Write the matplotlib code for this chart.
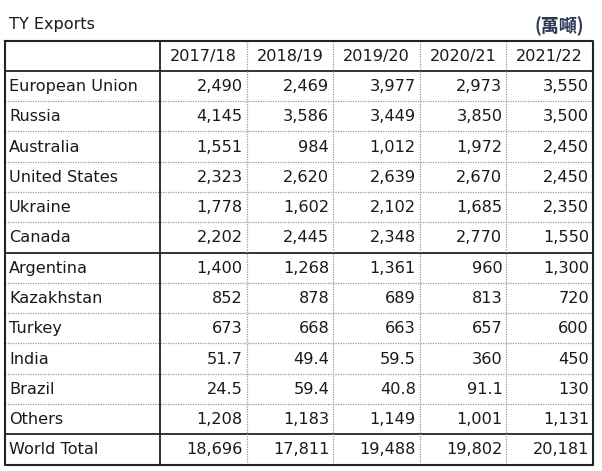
import matplotlib
matplotlib.use("Agg")
import matplotlib.pyplot as plt

plt.rcParams['font.family'] = ['DejaVu Sans', 'Noto Sans CJK JP']

title = "TY Exports"
unit = "(萬噸)"
years = ["2017/18", "2018/19", "2019/20", "2020/21", "2021/22"]
countries = ["European Union", "Russia", "Australia", "United States", "Ukraine",
             "Canada", "Argentina", "Kazakhstan", "Turkey", "India", "Brazil",
             "Others", "World Total"]
v2017 = ["2,490", "4,145", "1,551", "2,323", "1,778", "2,202", "1,400", "852", "673", "51.7", "24.5", "1,208", "18,696"]
v2018 = ["2,469", "3,586", "984", "2,620", "1,602", "2,445", "1,268", "878", "668", "49.4", "59.4", "1,183", "17,811"]
v2019 = ["3,977", "3,449", "1,012", "2,639", "2,102", "2,348", "1,361", "689", "663", "59.5", "40.8", "1,149", "19,488"]
v2020 = ["2,973", "3,850", "1,972", "2,670", "1,685", "2,770", "960", "813", "657", "360", "91.1", "1,001", "19,802"]
v2021 = ["3,550", "3,500", "2,450", "2,450", "2,350", "1,550", "1,300", "720", "600", "450", "130", "1,131", "20,181"]
columns = [v2017, v2018, v2019, v2020, v2021]

W, H = 602, 471
fig = plt.figure(figsize=(W / 100, H / 100), dpi=100)
ax = fig.add_axes([0, 0, 1, 1])
ax.set_xlim(0, W)
ax.set_ylim(H, 0)
ax.axis('off')

x_left, x_first, x_right = 4.5, 160, 593
top, bottom = 40.5, 464.5
ncols = len(years)
colw = (x_right - x_first) / ncols
nrows = len(countries) + 1
rowh = (bottom - top) / nrows
xs = [x_first + i * colw for i in range(ncols + 1)]
ys = [top + i * rowh for i in range(nrows + 1)]

fs = 11.6
tc = '#1a1a1a'
ax.text(9, 24, title, fontsize=fs, va='center', ha='left', color=tc)
ax.text(584, 26, unit, fontsize=13, va='center', ha='right', color='#2b3a55',
        fontweight='bold', family=['Noto Sans CJK JP'])

dot = dict(color='#999999', lw=0.9, linestyle=(0, (1, 1)))
solid = dict(color='#222222', lw=1.3)

# horizontal lines
solid_after = {0, 6, 12}
for i in range(1, nrows):
    if i - 1 in solid_after:
        ax.plot([x_left, x_right], [ys[i], ys[i]], **solid)
    else:
        ax.plot([x_left, x_right], [ys[i], ys[i]], **dot)
# vertical dotted lines
for x in xs[1:-1]:
    ax.plot([x, x], [top, bottom], **dot)
ax.plot([x_first, x_first], [top, bottom], **solid)
# outer border
ax.plot([x_left, x_right, x_right, x_left, x_left],
        [top, top, bottom, bottom, top], color='#222222', lw=1.5)

# header
for j, yr in enumerate(years):
    ax.text((xs[j] + xs[j + 1]) / 2, (ys[0] + ys[1]) / 2 + 1, yr, fontsize=fs,
            ha='center', va='center', color=tc)
# rows
for i, c in enumerate(countries):
    yc = (ys[i + 1] + ys[i + 2]) / 2 + 0.5
    ax.text(x_left + 4.5, yc, c, fontsize=fs, ha='left', va='center', color=tc)
    for j, col in enumerate(columns):
        ax.text(xs[j + 1] - 4, yc, col[i], fontsize=fs, ha='right', va='center',
                color=tc)

fig.savefig("out.png", dpi=100)
